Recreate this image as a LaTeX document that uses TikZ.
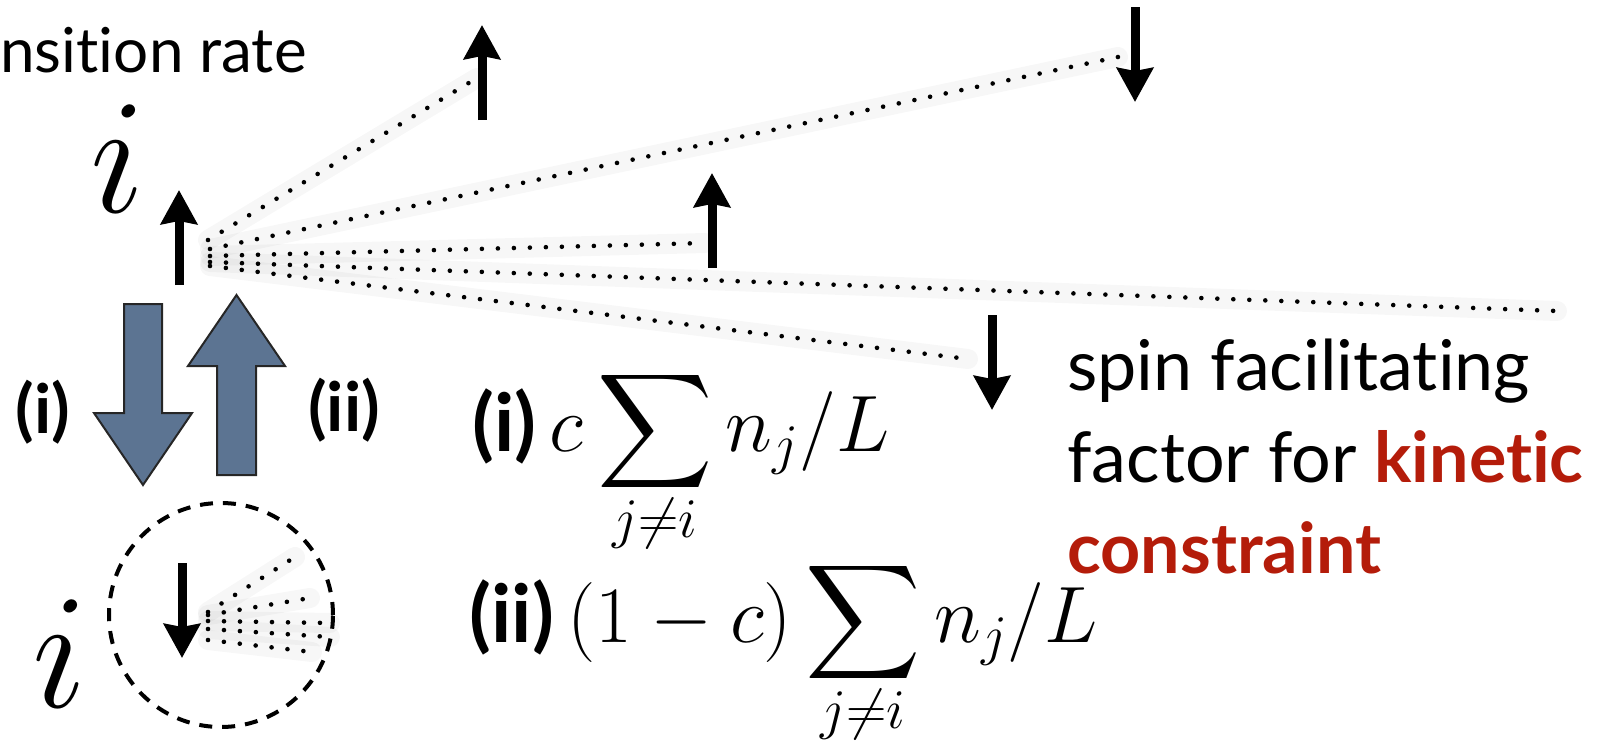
\RequirePackage{fix-cm}
\documentclass[tikz,border=0pt]{standalone}
\DeclareFontFamily{OMX}{cmex}{}
\DeclareFontShape{OMX}{cmex}{m}{n}{<-7.5> cmex7 <7.5-8.5> cmex8 <8.5-9.5> cmex9 <9.5-> cmex10}{}
\usepackage{fontspec}
\newfontfamily\gill[Ligatures=NoCommon]{Lato}
\usepackage{tikz}
\usetikzlibrary{arrows.meta}
\definecolor{slate}{RGB}{92,116,146}
\definecolor{kinred}{RGB}{180,28,10}
\newcommand{\nbsum}{\sum_{\vphantom{j\neq i}\smash{\raisebox{5pt}{$\scriptstyle j\neq i$}}}}

\tikzset{
  spin/.style={line width=4.5pt, -{Stealth[length=17pt,width=18pt,inset=1.5pt]}},
  link/.style={line width=2.3pt, line cap=round, dash pattern=on 0pt off 8pt},
  linkshadow/.style={line width=10pt, line cap=round, black, opacity=0.03, yshift=-4pt},
  blockarrow/.style={fill=slate, draw=black!85, line width=1pt},
  caseno/.style={inner sep=0, font=\gill\bfseries\fontsize{34}{38}\selectfont},
  site/.style={anchor=base west, inner sep=0, font=\fontsize{82}{90}\selectfont},
  note/.style={anchor=base west, inner sep=0, font=\gill\fontsize{35}{44}\selectfont}
}

\begin{document}
\begin{tikzpicture}[x=0.5pt, y=-0.5pt]
    \useasboundingbox (0,0) rectangle (1624,745);

    % Title
    \node[anchor=base west, inner sep=0, font=\gill\fontsize{31}{36}\selectfont] (title) at (0,72) {nsition rate};

    % Upper site with its neighbours
    \node[site] (iup) at (90,212) {$i$};
    \coordinate (s0a) at (179,285); \coordinate (s0b) at (179,190);
    \coordinate (n1a) at (482,120); \coordinate (n1b) at (482,25);
    \coordinate (n2a) at (1135,7);  \coordinate (n2b) at (1135,102);
    \coordinate (n3a) at (712,268); \coordinate (n3b) at (712,173);
    \coordinate (n4a) at (992,315); \coordinate (n4b) at (992,410);

    % Dotted links
    \coordinate (o1) at (208,240); \coordinate (e1) at (477,78);
    \coordinate (o2) at (210,249); \coordinate (e2) at (1118,57);
    \coordinate (o3) at (210,256); \coordinate (e3) at (705,243);
    \coordinate (o4) at (210,262); \coordinate (e4) at (1557,311);
    \coordinate (o5) at (210,266); \coordinate (e5) at (968,359);
    \foreach \o/\e in {o1/e1, o2/e2, o3/e3, o4/e4, o5/e5} {
        \draw[linkshadow] (\o) -- (\e);
        \draw[link] (\o) -- (\e);
    }
    \foreach \a/\b in {s0a/s0b, n1a/n1b, n2a/n2b, n3a/n3b, n4a/n4b}
        \draw[spin] (\a) -- (\b);

    % Transitions
    \draw[blockarrow] (124,304) -- (162,304) -- (162,413) -- (192,413) -- (143,485) -- (94,413) -- (124,413) -- cycle;
    \draw[blockarrow] (217,475) -- (256,475) -- (256,366) -- (285,366) -- (236.5,295) -- (188,366) -- (217,366) -- cycle;
    \node[caseno] (ci) at (43,412) {(i)};
    \node[caseno] (cii) at (344,410) {(ii)};

    % Lower site
    \node[site] (idown) at (32,707) {$i$};
    \draw[line width=2pt, dash pattern=on 6.5pt off 5pt] (221,615) circle[radius=56pt];
    \coordinate (p1) at (208,612); \coordinate (q1) at (295,557);
    \coordinate (p2) at (208,615); \coordinate (q2) at (310,598);
    \coordinate (p3) at (208,621); \coordinate (q3) at (330,623);
    \coordinate (p4) at (208,629); \coordinate (q4) at (330,637);
    \coordinate (p5) at (208,640); \coordinate (q5) at (312,652);
    \foreach \p/\q in {p1/q1, p2/q2, p3/q3, p4/q4, p5/q5} {
        \draw[linkshadow] (\p) -- (\q);
        \draw[link] (\p) -- (\q);
    }
    \coordinate (t0a) at (182,563); \coordinate (t0b) at (182,658);
    \draw[spin] (t0a) -- (t0b);

    % Rates
    \node[anchor=base west, inner sep=0, font=\fontsize{40}{48}\selectfont] (ratei) at (472,451)
        {{\gill\bfseries(i)}\,$\displaystyle c\nbsum n_j/L$};
    \node[anchor=base west, inner sep=0, font=\fontsize{40}{48}\selectfont] (rateii) at (469,642)
        {{\gill\bfseries(ii)}\,$\displaystyle (1-c)\nbsum n_j/L$};

    % Explanation
    \node[note] (line1) at (1067,390) {spin facilitating};
    \node[note] (line2) at (1067,482) {factor for \textcolor{kinred}{\bfseries kinetic}};
    \node[note] (line3) at (1067,573) {\textcolor{kinred}{\bfseries constraint}};
\end{tikzpicture}
\end{document}
